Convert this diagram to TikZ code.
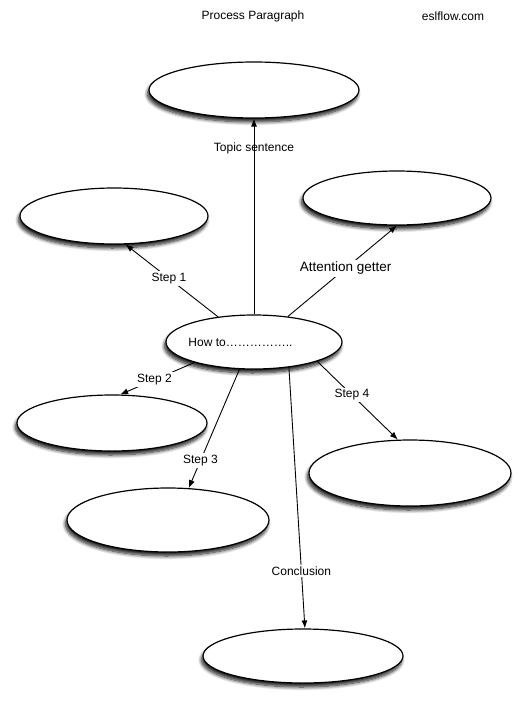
\documentclass[tikz,border=0pt]{standalone}
\usepackage{fontspec}
\setmainfont{Liberation Sans}
\usepackage{tikz}
\usetikzlibrary{arrows.meta,shapes.geometric,shadows.blur}

\begin{document}
\begin{tikzpicture}[x=1pt,y=-1pt, every node/.style={font=\fontsize{12}{14}\selectfont}, blob/.style={ellipse,draw=black,line width=1.2pt,fill=white,inner sep=0pt,blur shadow={shadow xshift=-1.5pt,shadow yshift=-4pt,shadow blur radius=3.5pt,shadow blur steps=8,shadow opacity=90}}, arr/.style={-{Latex[length=8pt,width=6pt]},line width=0.9pt}, tag/.style={fill=white,inner sep=2pt}]
\useasboundingbox (0,0) rectangle (532,721);
\node (title) at (253,16) {Process Paragraph};
\node (site) at (453,16) {eslflow.com};
\node[blob,minimum width=210pt,minimum height=56pt] (topic) at (254,90) {};
\node[blob,minimum width=188pt,minimum height=56pt] (s1) at (114,216) {};
\node[blob,minimum width=188pt,minimum height=54pt] (attn) at (397,198) {};
\node[blob,minimum width=176pt,minimum height=54pt,label={[xshift=-13.5pt]center:How to……………..}] (how) at (254,342) {};
\node[blob,minimum width=190pt,minimum height=56pt] (s2) at (112,423) {};
\node[blob,minimum width=202pt,minimum height=64pt] (s3) at (168,520) {};
\node[blob,minimum width=202pt,minimum height=66pt] (s4) at (410,473) {};
\node[blob,minimum width=200pt,minimum height=54pt] (concl) at (303,656) {};
\draw[arr] (how.north) -- node[pos=.85]{Topic sentence} (topic.south);
\draw[arr] (how.145) -- node[tag,pos=.53]{Step 1} (s1.-68);
\draw[arr] (how.37) -- node[tag,pos=.53,font=\fontsize{13.5}{16}\selectfont]{Attention getter} (attn.south);
\draw[arr] (how.199) -- node[tag,pos=.54]{Step 2} (s2.74);
\draw[arr] (how.242) -- node[tag,pos=.77]{Step 3} (s3.57);
\draw[arr] (how.-17) -- node[tag,pos=.43]{Step 4} (s4.110);
\draw[arr] (how.-36) -- node[tag,pos=.78]{Conclusion} (concl.86);
\end{tikzpicture}
\end{document}
